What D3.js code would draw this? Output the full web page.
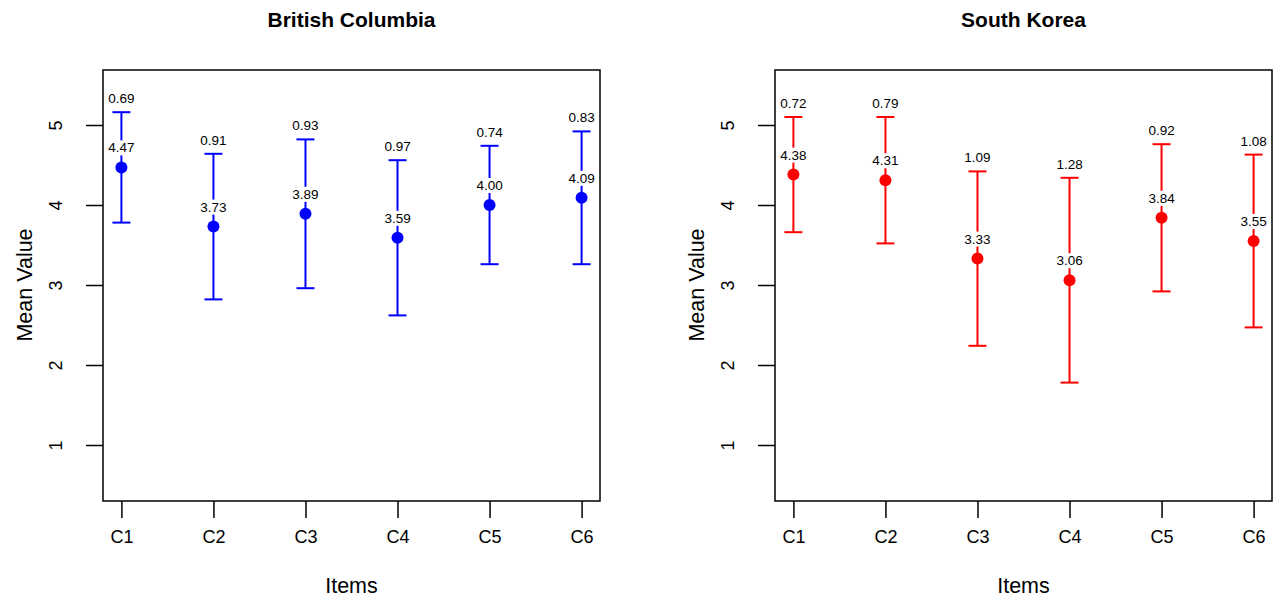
<!DOCTYPE html>
<html>
<head>
<meta charset="utf-8">
<script src="https://cdn.jsdelivr.net/npm/d3@7"></script>
<style>
  body { margin: 0; background: #fff; }
  text { font-family: 'Liberation Sans', Arial, sans-serif; }
</style>
</head>
<body>
<div id="chart"></div>
<script>
// item names on the x axis
const items = ['C1', 'C2', 'C3', 'C4', 'C5', 'C6']
const yTicks = [1, 2, 3, 4, 5]

// British Columbia: means and standard deviations
const bcMeans = [4.47, 3.73, 3.89, 3.59, 4.00, 4.09]
const bcSds = [0.69, 0.91, 0.93, 0.97, 0.74, 0.83]

// South Korea: means and standard deviations
const skMeans = [4.38, 4.31, 3.33, 3.06, 3.84, 3.55]
const skSds = [0.72, 0.79, 1.09, 1.28, 0.92, 1.08]

let svg = d3.select('#chart').append('svg')
    .attr('width', 1275)
    .attr('height', 603)

drawPanel(103, 600, 'British Columbia', bcMeans, bcSds, '#0000ff')
drawPanel(775, 1272, 'South Korea', skMeans, skSds, '#ff0000')

function drawPanel (left, right, title, means, sds, color) {
    let top = 69
    let bottom = 501
    let g = svg.append('g')

    let x = d3.scaleLinear().domain([0.8, 6.2]).range([left, right])
    let y = d3.scaleLinear().domain([0.3, 5.7]).range([bottom, top])

    // title
    g.append('text')
        .attr('x', (left + right) / 2)
        .attr('y', 27)
        .text(title)
        .style('font-size', '21px')
        .style('font-weight', 'bold')
        .style('text-anchor', 'middle')

    // x axis
    let xAxis = g.append('g')
        .attr('transform', `translate(0, ${bottom})`)
        .call(d3.axisBottom(x)
            .tickValues(d3.range(1, items.length + 1))
            .tickFormat(i => items[i - 1])
            .tickSize(17)
            .tickSizeOuter(0))
    xAxis.select('.domain').remove()
    xAxis.selectAll('line').attr('stroke', '#000').attr('stroke-width', 1.5)
    xAxis.selectAll('text')
        .attr('y', 42)
        .attr('dy', 0)
        .attr('fill', '#000')
        .style('font-size', '18px')
        .style('font-family', "'Liberation Sans', Arial, sans-serif")

    // y axis
    let yAxis = g.append('g')
        .attr('transform', `translate(${left}, 0)`)
        .call(d3.axisLeft(y)
            .tickValues(yTicks)
            .tickFormat(d3.format('d'))
            .tickSize(17)
            .tickSizeOuter(0))
    yAxis.select('.domain').remove()
    yAxis.selectAll('line').attr('stroke', '#000').attr('stroke-width', 1.5)
    yAxis.selectAll('text')
        .attr('x', 0)
        .attr('y', 0)
        .attr('dy', 0)
        .attr('transform', 'translate(-41, 0) rotate(-90)')
        .attr('fill', '#000')
        .style('text-anchor', 'middle')
        .style('font-size', '18px')
        .style('font-family', "'Liberation Sans', Arial, sans-serif")

    // axis titles
    g.append('text')
        .attr('x', (left + right) / 2)
        .attr('y', 593)
        .text('Items')
        .style('font-size', '21.5px')
        .style('text-anchor', 'middle')

    g.append('text')
        .attr('transform', `translate(${left - 71}, ${(top + bottom) / 2}) rotate(-90)`)
        .text('Mean Value')
        .style('font-size', '21.5px')
        .style('text-anchor', 'middle')

    // box
    g.append('rect')
        .attr('x', left)
        .attr('y', top + 1)
        .attr('width', right - left)
        .attr('height', bottom - top - 1)
        .attr('fill', 'none')
        .style('stroke', '#000')
        .style('stroke-width', 1.5)

    let data = means.map((m, i) => ({ item: i + 1, mean: m, sd: sds[i] }))

    let marks = g.selectAll('.mark').data(data).enter().append('g')
        .attr('class', 'mark')

    // whiskers
    marks.append('line')
        .attr('x1', d => x(d.item))
        .attr('x2', d => x(d.item))
        .attr('y1', d => y(d.mean - d.sd))
        .attr('y2', d => y(d.mean + d.sd))
        .style('stroke', color)
        .style('stroke-width', 2)

    marks.append('line')
        .attr('x1', d => x(d.item) - 9)
        .attr('x2', d => x(d.item) + 9)
        .attr('y1', d => y(d.mean + d.sd))
        .attr('y2', d => y(d.mean + d.sd))
        .style('stroke', color)
        .style('stroke-width', 2)

    marks.append('line')
        .attr('x1', d => x(d.item) - 9)
        .attr('x2', d => x(d.item) + 9)
        .attr('y1', d => y(d.mean - d.sd))
        .attr('y2', d => y(d.mean - d.sd))
        .style('stroke', color)
        .style('stroke-width', 2)

    marks.append('circle')
        .attr('cx', d => x(d.item))
        .attr('cy', d => y(d.mean))
        .attr('r', 6)
        .attr('fill', color)

    // mean labels with white background
    marks.each(function (d) {
        let m = d3.select(this)
        let bg = m.append('rect').attr('fill', '#fff')
        let t = m.append('text')
            .attr('x', x(d.item))
            .attr('y', y(d.mean) - 15)
            .text(d.mean.toFixed(2))
            .style('font-size', '13.5px')
            .style('text-anchor', 'middle')
        let b = t.node().getBBox()
        bg.attr('x', b.x - 1)
            .attr('y', b.y)
            .attr('width', b.width + 2)
            .attr('height', b.height)

        m.append('text')
            .attr('x', x(d.item))
            .attr('y', y(d.mean + d.sd) - 9)
            .text(d.sd.toFixed(2))
            .style('font-size', '13.5px')
            .style('text-anchor', 'middle')
    })
}
</script>
</body>
</html>
